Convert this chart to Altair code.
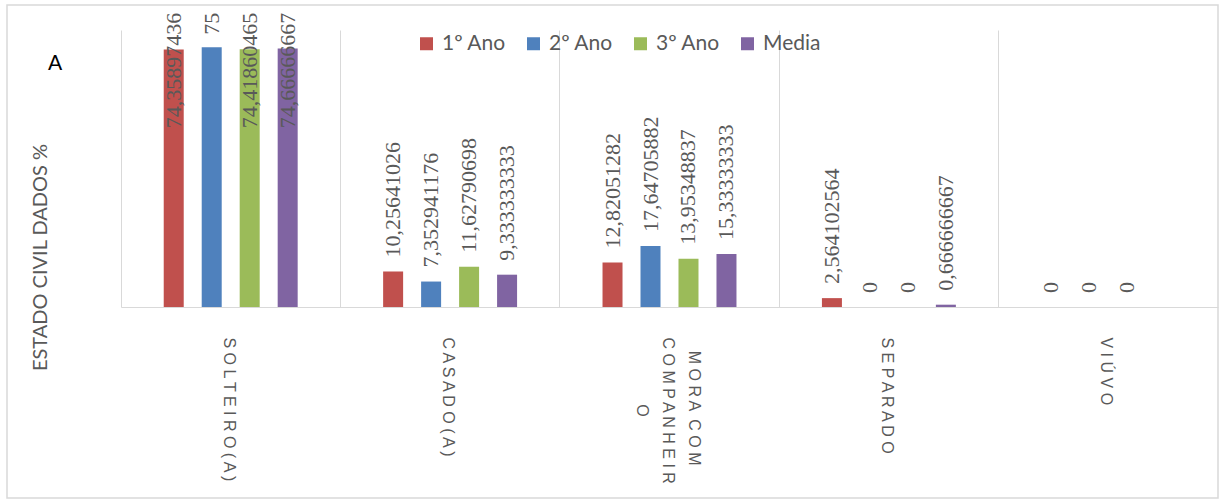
import altair as alt
import pandas as pd

categories = ["SOLTEIRO(A)", "CASADO(A)", "MORA COM COMPANHEIRO", "SEPARADO", "VIÚVO"]
series = ["1º Ano", "2º Ano", "3º Ano", "Media"]
ano1 = [74.35897436, 10.25641026, 12.82051282, 2.564102564, 0]
ano2 = [75, 7.352941176, 17.64705882, 0, 0]
ano3 = [74.41860465, 11.62790698, 13.95348837, 0, 0]
media = [74.66666667, 9.333333333, 15.33333333, 0.666666667, None]
colors = ["#C0504D", "#4F81BD", "#9BBB59", "#8064A2"]


def excel_general(v):
    if float(v) == int(v):
        return str(int(v))
    ip = len(str(int(v)))
    dec = 11 - ip - 1
    s = f"{v:.{dec}f}".rstrip("0").rstrip(".")
    return s.replace(".", ",")


rows = []
for i, c in enumerate(categories):
    for s, vals in zip(series, [ano1, ano2, ano3, media]):
        v = vals[i]
        if v is None:
            continue
        rows.append({"cat": c, "serie": s, "value": v, "label": excel_general(v)})
df = pd.DataFrame(rows)

GRAY = "#595959"
LIGHT = "#d9d9d9"
W, H = 1097, 277

ZW = "\u200b"
NB = "\u00a0"
MULTI = "datum.value == 'MORA COM COMPANHEIRO'"
label_expr = (
    f"{MULTI} ? "
    f"['{ZW}{NB * 3}M O R A {NB}C O M', 'C O M P A N H E I R', "
    f"'{ZW}{NB * 15}O'] : "
    "join(split(datum.value, ''), ' ')"
)

x_enc = alt.X(
    "cat:N",
    sort=categories,
    scale=alt.Scale(paddingInner=0, paddingOuter=0),
    axis=alt.Axis(
        title=None,
        bandPosition=0,
        grid=True,
        gridColor=LIGHT,
        ticks=False,
        domainColor=LIGHT,
        labelAngle=90,
        labelAlign="left",
        labelBaseline="middle",
        labelPadding=30,
        labelOffset=alt.condition(MULTI, alt.value(24), alt.value(-2)),
        labelFont="Liberation Sans",
        labelFontSize=16,
        labelColor=GRAY,
        labelLineHeight=26,
        labelOverlap=False,
        labelExpr=label_expr,
    ),
)
xoff = alt.XOffset(
    "serie:N", sort=series, scale=alt.Scale(paddingInner=0, paddingOuter=0.888)
)
y_axis = alt.Axis(
    title="ESTADO CIVIL DADOS %",
    labels=False,
    ticks=False,
    domain=False,
    grid=False,
    titleAngle=270,
    titleAlign="center",
    titleBaseline="middle",
    titleX=-81,
    titleY=227,
    titleFont="Lato",
    titleFontSize=20,
    titleFontWeight="normal",
    titleColor=GRAY,
)
yscale = alt.Scale(domain=[0, 80], nice=False)

base = alt.Chart(df)

bars = base.mark_bar(width=20).encode(
    x=x_enc,
    xOffset=xoff,
    y=alt.Y("value:Q", scale=yscale, axis=y_axis),
    color=alt.Color(
        "serie:N",
        sort=series,
        scale=alt.Scale(domain=series, range=colors),
        legend=alt.Legend(
            title=None,
            orient="none",
            direction="horizontal",
            legendX=295,
            legendY=3,
            padding=0,
            symbolType="square",
            symbolSize=169,
            symbolStrokeWidth=0,
            labelFont="Lato",
            labelFontSize=21,
            labelColor=GRAY,
            labelOffset=5,
            columnPadding=17,
        ),
    ),
)

labels_low = base.transform_filter("datum.value < 50").mark_text(
    angle=270, align="left", baseline="middle", dx=14,
    font="Liberation Serif", fontSize=22, color=GRAY,
).encode(
    x=alt.X("cat:N", sort=categories),
    xOffset=xoff,
    y=alt.Y("value:Q", scale=yscale, title="ESTADO CIVIL DADOS %"),
    text="label:N",
)

labels_high = base.transform_filter("datum.value >= 50").transform_calculate(
    ytop="85"
).mark_text(
    angle=270, align="right", baseline="middle",
    font="Liberation Serif", fontSize=22, color=GRAY,
).encode(
    x=alt.X("cat:N", sort=categories),
    xOffset=xoff,
    y=alt.Y("ytop:Q", scale=yscale, title="ESTADO CIVIL DADOS %"),
    text="label:N",
)

panel = alt.Chart(pd.DataFrame({"t": ["A"]})).mark_text(
    font="Lato", fontSize=21, color="#000000", align="center", baseline="middle"
).encode(text="t:N", x=alt.value(-66), y=alt.value(34))

border = alt.Chart(pd.DataFrame({"t": [0]})).mark_rect(
    fillOpacity=0, stroke=LIGHT, strokeWidth=1.5
).encode(x=alt.value(-114), x2=alt.value(W), y=alt.value(-25), y2=alt.value(468))

chart = alt.layer(border, bars, labels_low, labels_high, panel).properties(
    width=W,
    height=H,
    padding={"left": 121, "top": 30, "right": 1, "bottom": 192},
    autosize=alt.AutoSizeParams(type="none"),
    background="white",
).configure_view(stroke="transparent")

chart.save("out.html", embed_options={"renderer": "svg", "actions": False})
